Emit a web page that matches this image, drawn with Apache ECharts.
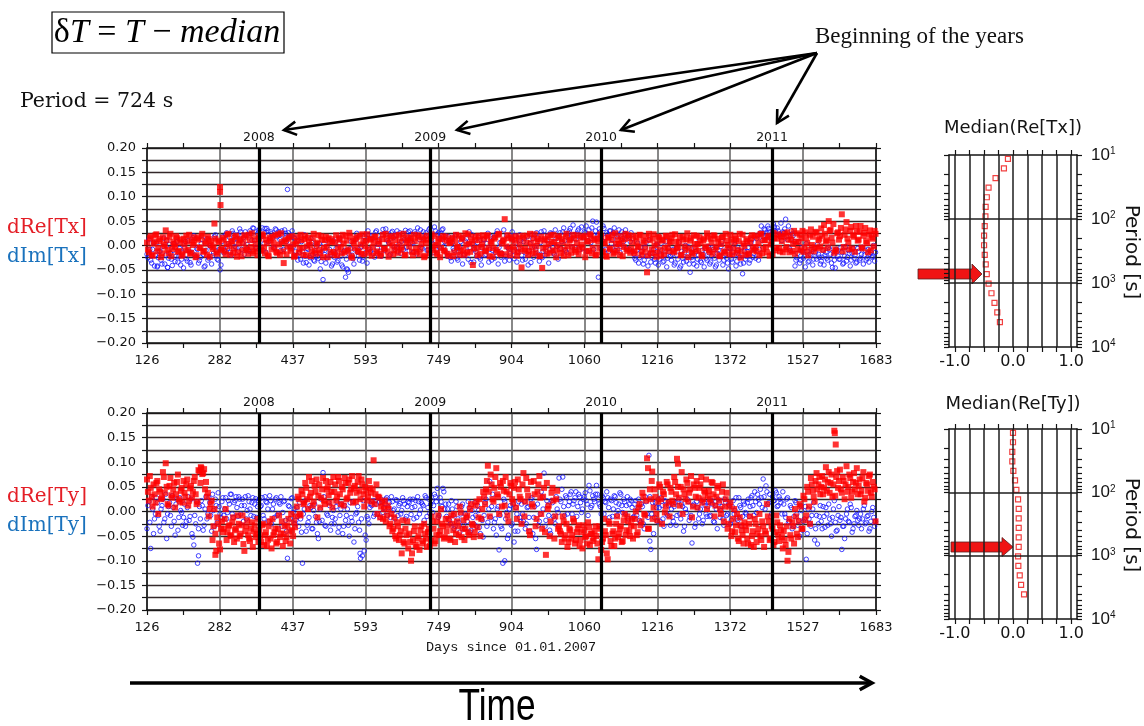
<!DOCTYPE html>
<html>
<head>
<meta charset="utf-8">
<script src="https://cdn.jsdelivr.net/npm/echarts@6/dist/echarts.min.js"></script>
<style>
  html, body { margin: 0; padding: 0; background: #fff; }
  #c { width: 1144px; height: 726px; }
</style>
</head>
<body>
<div id="c"></div>
<script>
// Observation days, first set (days since 01.01.2007)
const days = [
  126,130,134,138,142,146,150,154,158,162,166,170,174,178,182,186,190,194,198,202,
  206,210,214,218,222,226,230,234,238,242,246,250,254,258,262,266,270,274,278,282,
  286,290,294,298,302,306,310,314,318,322,326,330,334,338,342,346,350,354,358,362,
  366,370,374,378,382,386,390,394,398,402,406,410,414,418,422,426,430,434,438,442,
  446,450,454,458,462,466,470,474,478,482,486,490,494,498,502,506,510,514,518,522,
  526,530,534,538,542,546,550,554,558,562,566,570,574,578,582,586,590,594,598,602,
  606,610,614,618,622,626,630,634,638,642,646,650,654,658,662,666,670,674,678,682,
  686,690,694,698,702,706,710,714,718,722,726,730,734,738,742,746,750,754,758,762,
  766,770,774,778,782,786,790,794,798,802,806,810,814,818,822,826,830,834,838,842,
  846,850,854,858,862,866,870,874,878,882,886,890,894,898,902,906,910,914,918,922,
  926,930,934,938,942,946,950,954,958,962,966,970,974,978,982,986,990,994,998,1002,
  1006,1010,1014,1018,1022,1026,1030,1034,1038,1042,1046,1050,1054,1058,1062,1066,1070,1074,1078,1082,
  1086,1090,1094,1098,1102,1106,1110,1114,1118,1122,1126,1130,1134,1138,1142,1146,1150,1154,1158,1162,
  1166,1170,1174,1178,1182,1186,1190,1194,1198,1202,1206,1210,1214,1218,1222,1226,1230,1234,1238,1242,
  1246,1250,1254,1258,1262,1266,1270,1274,1278,1282,1286,1290,1294,1298,1302,1306,1310,1314,1318,1322,
  1326,1330,1334,1338,1342,1346,1350,1354,1358,1362,1366,1370,1374,1378,1382,1386,1390,1394,1398,1402,
  1406,1410,1414,1418,1422,1426,1430,1434,1438,1442,1446,1450,1454,1458,1462,1466,1470,1474,1478,1482,
  1486,1490,1494,1498,1502,1506,1510,1514,1518,1522,1526,1530,1534,1538,1542,1546,1550,1554,1558,1562,
  1566,1570,1574,1578,1582,1586,1590,1594,1598,1602,1606,1610,1614,1618,1622,1626,1630,1634,1638,1642,
  1646,1650,1654,1658,1662,1666,1670,1674,1678,1682
];
// Observation days, second set
const daysB = [
  128,132,136,140,144,148,152,156,160,164,168,172,176,180,184,188,192,196,200,204,
  208,212,216,220,224,228,232,236,240,244,248,252,256,260,264,268,272,276,280,284,
  288,292,296,300,304,308,312,316,320,324,328,332,336,340,344,348,352,356,360,364,
  368,372,376,380,384,388,392,396,400,404,408,412,416,420,424,428,432,436,440,444,
  448,452,456,460,464,468,472,476,480,484,488,492,496,500,504,508,512,516,520,524,
  528,532,536,540,544,548,552,556,560,564,568,572,576,580,584,588,592,596,600,604,
  608,612,616,620,624,628,632,636,640,644,648,652,656,660,664,668,672,676,680,684,
  688,692,696,700,704,708,712,716,720,724,728,732,736,740,744,748,752,756,760,764,
  768,772,776,780,784,788,792,796,800,804,808,812,816,820,824,828,832,836,840,844,
  848,852,856,860,864,868,872,876,880,884,888,892,896,900,904,908,912,916,920,924,
  928,932,936,940,944,948,952,956,960,964,968,972,976,980,984,988,992,996,1000,1004,
  1008,1012,1016,1020,1024,1028,1032,1036,1040,1044,1048,1052,1056,1060,1064,1068,1072,1076,1080,1084,
  1088,1092,1096,1100,1104,1108,1112,1116,1120,1124,1128,1132,1136,1140,1144,1148,1152,1156,1160,1164,
  1168,1172,1176,1180,1184,1188,1192,1196,1200,1204,1208,1212,1216,1220,1224,1228,1232,1236,1240,1244,
  1248,1252,1256,1260,1264,1268,1272,1276,1280,1284,1288,1292,1296,1300,1304,1308,1312,1316,1320,1324,
  1328,1332,1336,1340,1344,1348,1352,1356,1360,1364,1368,1372,1376,1380,1384,1388,1392,1396,1400,1404,
  1408,1412,1416,1420,1424,1428,1432,1436,1440,1444,1448,1452,1456,1460,1464,1468,1472,1476,1480,1484,
  1488,1492,1496,1500,1504,1508,1512,1516,1520,1524,1528,1532,1536,1540,1544,1548,1552,1556,1560,1564,
  1568,1572,1576,1580,1584,1588,1592,1596,1600,1604,1608,1612,1616,1620,1624,1628,1632,1636,1640,1644,
  1648,1652,1656,1660,1664,1668,1672,1676,1680
];

// Deviations from the median, in units of 0.001 (first set of days)
const reTx = [
  6,-14,19,-21,8,23,-5,13,-16,2,31,-9,18,-22,7,-3,15,-11,12,-18,
  3,20,-9,-17,11,6,-24,15,-4,19,-13,8,-19,13,1,-7,45,-14,10,120,
  -6,12,-18,22,-2,9,-15,17,-23,4,14,-10,21,-6,-17,11,25,-12,3,-20,
  14,-8,20,-16,5,-22,10,18,-4,-13,23,-19,7,-36,12,-2,17,-11,2,-21,
  9,-15,22,-5,13,-20,16,1,-12,24,-17,6,-9,19,-24,11,-3,15,-14,8,
  -19,21,-7,12,-16,4,20,-11,26,-22,9,-5,17,-13,2,23,-18,10,-8,14,
  -21,7,18,-12,3,-17,22,-6,13,-23,16,0,-10,20,-15,8,-4,24,-19,11,
  -2,15,-20,9,-13,21,-7,17,-24,5,12,-16,23,-9,1,-18,14,-5,19,-12,
  10,-21,6,16,-14,22,-3,-19,13,-8,25,-15,4,18,-40,11,-6,20,-17,2,
  14,-10,21,-22,7,-5,17,-13,24,-18,9,54,-2,15,-20,12,-9,19,-14,3,
  -45,16,-7,20,-12,5,-17,23,-1,13,-21,-46,10,-4,18,-15,8,22,-11,1,
  19,-16,6,-9,24,-20,12,-3,15,-13,21,-7,2,17,-24,9,-11,20,-5,14,
  -18,8,23,-14,4,-21,16,-6,11,-17,25,-10,3,19,-22,13,-8,21,-15,6,
  -12,17,-3,22,-19,10,-7,-55,24,-16,14,0,-23,18,-9,12,-18,20,-4,9,
  15,-11,23,-6,7,-20,18,-2,13,-24,10,-14,21,-8,3,17,-19,11,-5,25,
  -9,14,-17,20,-3,8,-22,16,-12,24,1,-18,12,-6,19,-15,9,-25,22,-1,
  13,-16,6,21,-10,-3,17,-20,24,-7,11,-14,20,2,-18,15,-5,23,-12,9,
  18,-8,27,-14,12,3,-17,25,7,-10,30,-4,16,-20,22,1,-12,28,-6,14,
  35,-9,24,11,50,32,6,-15,-11,27,19,64,-3,33,14,-8,38,21,-13,29,
  12,40,-6,26,9,-14,31,17,-2,24
];
const imTx = [
  -18,12,-30,-8,-42,5,-25,-12,-38,15,-20,-45,2,-28,-10,-33,8,-22,-40,-15,
  -5,-27,10,-35,-14,20,-24,-8,-31,4,-18,-42,14,-26,-3,-21,18,-11,-30,-50,
  8,-15,22,-6,17,-20,25,-2,14,-12,28,5,-18,20,-9,30,11,35,-4,24,
  33,18,-10,26,35,8,28,15,-6,32,22,12,30,-8,25,115,18,20,-3,14,
  -20,10,-28,-12,22,-35,-8,-25,6,-30,-15,-22,4,-33,-70,-10,-26,12,-18,-38,
  -24,-6,-31,15,-40,-12,-65,-50,-18,8,-27,-9,25,-21,-4,-32,18,-14,30,-7,
  20,-16,27,-5,12,-22,33,-10,24,6,-18,29,-3,21,-13,26,9,-8,31,15,
  -11,23,4,28,-17,19,32,-6,14,26,-9,35,10,-14,30,22,-4,25,34,8,
  -15,18,-25,6,-10,22,-30,-2,15,-20,9,-12,28,-35,3,-8,-22,17,-28,-5,
  12,-18,25,-8,-30,16,-14,30,-4,-24,10,-32,20,-6,-16,28,-27,5,-12,22,
  -20,8,-28,18,-10,-35,14,-3,26,-18,6,-25,30,-12,20,-8,24,-15,32,-2,
  18,-6,28,10,-14,25,35,-3,22,12,30,-9,38,16,26,-12,32,6,50,20,
  48,-65,28,10,35,-8,22,30,4,26,-10,18,32,-2,14,24,-6,20,8,-12,
  -18,-30,5,-25,-12,-38,-4,-22,12,-34,-16,-28,2,-40,-20,-10,-32,8,-26,-14,
  -30,-8,-36,-20,6,-42,-26,-14,-32,-3,-55,-24,-38,-12,-28,10,-35,-18,-6,-30,
  -15,-34,-4,-26,-40,-10,-22,8,-30,-18,-36,-6,-28,-14,2,-32,-20,-38,-58,-12,
  -22,-4,-30,12,-16,-26,20,-8,40,18,32,26,35,14,28,38,22,30,24,10,
  26,54,12,-6,30,20,-42,-25,8,-30,-12,-22,4,-34,-18,-8,-28,-15,2,-24,
  -32,-10,-20,-26,-4,-18,-45,-30,-8,-22,-28,-14,-36,-2,-24,-16,-30,-6,-20,-34,
  -12,-26,-4,-20,-30,-8,-18,-24,0,-14
];
const reTy = [
  65,22,48,10,35,58,-5,40,28,70,98,15,52,33,45,8,60,25,42,18,
  38,55,12,47,28,62,35,20,82,88,78,45,30,-10,15,-58,5,-80,-25,-77,
  -20,-35,5,-42,-28,-50,-12,-38,-55,-25,-45,-8,-80,-30,-48,-60,-22,-40,-52,-15,
  -38,-62,-25,-48,-70,-30,-55,-15,-42,-65,-35,-52,-20,-45,-60,-28,-40,-5,-50,-32,
  10,25,-8,35,18,48,5,30,62,20,40,-12,55,28,68,15,45,33,60,8,
  40,22,70,35,50,12,58,28,65,45,18,52,38,72,25,55,10,42,30,48,
  20,104,35,-5,28,10,-15,22,-8,5,-25,-40,-12,-55,-30,-48,-85,-62,-35,-20,
  -45,-100,-58,-30,-72,-50,-38,-65,-25,-55,-42,-70,-10,-35,-60,-20,-48,5,-30,-52,
  -40,-15,-58,-25,-5,-45,-30,10,-52,-18,-35,-8,-48,15,-28,-42,20,-12,-50,5,
  30,45,93,-10,55,20,70,35,-5,50,62,12,40,-20,58,25,48,8,65,30,
  -25,78,20,45,-40,60,10,35,-15,55,28,-35,48,-88,5,-50,38,22,-10,42,
  -30,-45,-10,-55,-25,-62,-38,-48,-20,-58,-35,-70,-42,-28,-52,-65,-32,-45,-60,-40,
  -50,-97,-35,-62,-15,-48,-97,-25,-70,-40,-55,-10,-45,-30,-60,-5,-38,-20,-50,-15,
  -30,0,-42,15,-20,30,-8,108,-35,25,-15,45,-5,20,50,-25,35,10,55,-10,
  40,15,60,107,28,50,-5,35,65,20,45,-12,55,30,8,48,70,25,38,5,
  42,18,58,-10,30,52,5,40,-20,25,-35,10,-50,-15,-42,-5,-60,-28,-48,-22,
  -38,-65,-10,-50,-72,-25,-45,-5,-58,-30,-40,15,-20,-55,-35,-62,-8,-48,-28,-52,
  -40,-68,-100,-15,-55,-30,5,-45,-20,10,-35,25,-8,40,-25,55,30,62,45,70,
  50,35,65,42,80,58,30,164,70,48,85,38,62,55,40,75,28,60,45,88,
  52,35,68,20,58,42,75,30,50,-20
];
const imTy = [
  -35,20,-75,5,-15,28,-8,-40,12,-22,35,-5,18,-30,8,-48,25,-12,2,-28,
  15,-20,30,-10,-45,-68,-25,-105,10,22,-38,5,-15,28,-8,35,-30,12,38,-5,
  20,-8,28,-2,15,35,-12,22,8,30,-5,25,12,-15,32,5,18,-10,26,10,
  25,12,-8,30,18,-20,22,5,-12,28,-5,15,-30,20,-18,-95,10,26,-2,-25,
  8,-30,-15,-105,5,-40,-22,12,-35,2,-10,-45,-20,25,79,-28,-5,18,-38,-12,
  -25,10,-42,-8,15,-30,-18,5,-50,-12,20,-35,-2,-22,-95,-90,-80,-58,-15,8,
  12,-10,22,-5,18,25,-2,15,28,8,-12,20,5,24,-8,16,2,22,-15,10,
  18,-6,25,10,-12,20,3,15,-18,28,8,-4,22,12,30,47,-8,20,47,5,
  -10,15,-25,5,-35,20,-15,-42,10,-28,-5,-20,8,-38,-12,18,-30,2,-45,-18,
  -8,25,-22,61,10,-35,-15,5,-78,-30,-105,20,-2,-48,12,-25,-62,8,-40,-12,
  15,-20,-35,8,-12,25,-45,10,-77,-28,-5,30,78,-18,12,-38,22,-10,-25,5,
  68,20,70,-8,28,12,35,-5,22,40,10,30,-2,25,38,15,53,8,32,20,
  53,25,10,32,-5,18,28,-12,22,5,30,-8,15,35,-2,20,12,-15,25,8,
  -10,22,5,-18,15,-25,30,-5,114,-77,18,-12,8,25,-20,12,-30,20,-8,15,
  5,-20,18,-8,25,-15,10,-30,-2,20,-12,-64,15,-25,8,-5,22,-18,12,-10,
  20,-8,15,-22,5,25,-12,10,-28,18,-5,12,-18,22,2,-15,28,8,-10,15,
  -5,25,10,32,-8,20,35,15,28,66,5,40,18,-10,30,22,38,12,25,-5,
  15,-12,28,-20,8,-30,22,-5,-18,12,-38,-15,-97,5,-25,-8,18,-35,-66,-10,
  -20,10,-32,-5,15,-25,-12,22,-40,-8,-18,-77,-30,-15,5,-22,8,-35,-10,2,
  -28,-5,-15,12,-22,-8,-35,0,-12,-20
];

// Deviations from the median, in units of 0.001 (second set of days)
const reTxB = [
  -8,15,-19,4,21,-12,9,-24,17,-2,11,-16,24,-7,3,19,-13,6,-21,14,
  -10,8,22,-15,1,17,-20,12,-5,24,-11,4,18,-23,9,-3,14,-17,7,-9,
  16,-12,3,24,-19,8,-6,20,-14,11,-22,5,17,-9,22,-3,-16,13,-7,19,
  -11,23,-4,12,-20,16,-8,6,21,-15,2,25,-12,9,-18,14,-6,19,-23,4,
  17,-7,11,-19,20,-2,8,-22,15,-10,3,21,-16,12,-5,18,-24,7,13,-13,
  6,-20,15,-3,22,-14,10,-8,18,-25,5,14,-11,20,-17,9,-2,23,-15,12,
  -4,18,-16,9,-21,13,-7,24,-12,5,19,-18,11,-3,22,-9,15,-20,6,17,
  10,-13,22,-6,16,-18,3,12,-21,20,-8,14,-2,19,-15,7,-24,13,-10,18,
  -17,5,13,-22,9,-4,20,-11,16,-19,2,23,-13,7,-6,18,-20,11,-3,21,
  -12,19,-5,8,-23,14,-9,22,-16,4,12,-18,21,-7,17,-2,10,-21,15,-8,
  20,-11,6,-19,24,-4,15,-14,9,-22,18,-6,13,-17,3,21,-10,7,-24,16,
  -7,13,-21,18,-2,10,-15,22,-9,5,-18,16,-4,20,-12,8,23,-16,11,-20,
  14,-5,19,-12,7,-23,17,-8,22,-14,3,12,-19,9,-3,24,-11,15,-7,20,
  -16,9,-2,21,-13,6,18,-20,11,-8,23,-15,4,16,-21,10,-5,19,-12,7,
  22,-14,8,-4,17,-19,12,-9,25,-6,15,-17,3,20,-11,6,-22,14,-2,18,
  -13,6,21,-8,14,-20,3,18,-15,10,-5,22,-18,7,13,-9,24,-12,4,-19,
  9,-18,15,-6,20,-12,5,23,-16,11,-3,17,-21,8,26,-10,14,-5,19,-14,
  24,-3,12,20,-11,30,8,-7,22,15,-13,27,5,-9,33,18,-4,26,11,-2,
  20,42,8,-5,30,16,44,-8,25,12,36,-12,22,48,6,30,-6,18,40,10,
  28,-4,20,36,5,22,-10,14,30
];
const imTxB = [
  -25,-8,-36,6,-20,-44,-12,-30,-2,-38,10,-26,-16,-41,4,-22,-34,-6,-28,-46,
  8,-32,-12,-40,16,-20,-6,-36,-24,12,-44,-10,-30,0,-38,-16,22,-28,-8,-40,
  18,-10,26,4,-14,30,12,-4,22,34,-8,16,28,2,-12,24,36,10,-6,30,
  20,36,4,-14,30,14,24,-4,34,18,28,-10,22,32,8,26,-2,30,16,-12,
  -30,-14,8,-36,-22,-6,-40,14,-18,-32,-2,-26,-48,-12,4,-36,-20,-8,-42,10,
  -16,-34,4,-22,-44,-10,-28,-55,-6,-20,-38,12,-14,-30,-2,-24,10,-36,22,-12,
  14,-24,30,4,-12,22,-6,34,10,-20,26,16,-8,30,2,-16,24,12,-4,28,
  30,6,-14,24,36,12,-4,28,18,-10,32,22,4,38,-8,26,14,32,-2,20,
  -22,10,-32,-6,20,-26,-14,8,-38,-18,14,-28,-4,22,-34,-12,6,-24,-40,12,
  -20,4,-34,18,-10,-26,24,-38,6,-16,32,-22,-4,-30,14,-12,20,-34,-6,10,
  -30,14,-16,-40,4,22,-24,-8,16,-32,28,-12,-20,10,-36,26,-4,-18,14,-28,
  26,8,36,-10,20,30,14,42,-4,24,34,18,-6,28,40,10,22,36,-8,30,
  20,34,-6,40,16,26,-12,30,12,36,-2,22,-14,28,8,32,18,-8,26,14,
  -26,-10,-36,-4,-20,-30,6,-42,-16,-24,-8,-36,-12,-28,4,-34,-20,-44,-6,-22,
  -18,-40,-6,-28,-46,-12,-34,0,-24,-38,-14,-30,-4,-42,-20,-32,-10,-44,-26,-2,
  -38,-22,-8,-44,-16,-30,-2,-40,-12,-26,-48,-6,-34,-20,-42,-10,-24,-4,-36,-28,
  -12,-36,6,-24,-8,14,-30,26,10,34,20,40,28,16,44,30,36,20,46,28,
  34,18,40,-10,24,8,-30,-16,-36,-4,-26,-44,-12,-32,-20,-40,-6,-28,-18,-38,
  -24,-40,-14,-30,-8,-36,-20,-46,-12,-28,-4,-38,-22,-32,-10,-42,-16,-26,-36,-6,
  -30,-18,-38,-10,-26,-34,-14,-22,-32
];
const reTyB = [
  40,72,30,55,18,62,45,25,80,38,50,12,68,28,58,35,75,20,48,62,
  30,65,22,52,40,70,15,84,58,76,86,60,38,5,22,-30,-45,-12,-65,-35,
  -42,-15,-58,-30,-48,-22,-62,-35,-8,-50,-28,-66,-40,-18,-55,-35,-72,-28,-45,-62,
  -50,-28,-68,-42,-58,-20,-75,-48,-35,-62,-8,-45,-70,-30,-52,-15,-65,-38,-22,-10,
  30,-5,42,15,58,25,70,38,12,52,65,32,8,45,22,62,50,18,40,70,
  55,30,62,15,45,68,25,58,38,72,48,20,60,42,65,35,50,22,62,38,
  45,15,55,30,-12,18,5,-20,12,-30,-5,-35,-50,-22,-58,-40,-18,-65,-48,-75,
  -62,-85,-40,-68,-55,-78,-30,-60,-45,-72,-35,-58,-20,-65,-48,-8,-40,-25,-55,-15,
  -28,-55,-8,-38,-62,-20,-48,-2,-35,-58,-12,-42,5,-25,-52,12,-32,25,-15,40,
  15,62,40,75,25,48,88,30,58,10,42,70,-8,35,52,18,60,-15,45,25,
  55,-10,68,32,-48,15,62,-30,40,72,-5,30,-42,58,12,-20,48,-55,25,-35,
  -40,-62,-20,-48,-72,-35,-55,-15,-65,-42,-28,-58,-75,-38,-50,-22,-68,-45,-55,-30,
  -65,-30,-78,-55,-40,-85,-20,-60,-45,-70,-25,-52,-35,-62,-18,-48,-10,-40,-28,-55,
  -15,-48,8,-28,38,-5,22,-35,45,62,8,30,-18,55,25,40,-2,60,18,48,
  22,70,35,50,12,80,45,25,58,38,72,10,48,62,28,55,18,42,65,32,
  25,60,35,12,48,22,-5,55,10,38,-25,18,-40,5,-28,-55,-12,-38,-65,-30,
  -55,-25,-68,-40,-15,-62,-35,-50,-20,-72,-45,-10,-58,-30,-68,-42,-22,-60,-38,-75,
  -58,-30,-82,-48,-22,-65,-10,-52,15,-35,32,-18,50,10,68,42,20,78,55,35,
  72,48,90,60,38,75,55,32,82,62,45,70,25,92,50,68,40,78,58,35,
  65,42,80,28,55,72,38,60,45
];
const imTyB = [
  12,-22,30,-45,-5,18,-30,5,25,-15,-55,10,-8,32,-20,15,-38,28,-2,-12,
  -30,8,-18,25,-52,-8,20,-35,-15,12,-28,30,-5,18,-40,2,25,-22,10,-12,
  28,5,-15,22,35,-5,18,30,-10,25,12,-20,30,2,20,-8,28,15,-12,22,
  10,28,-15,20,5,32,-25,15,25,-8,18,30,-2,22,-40,12,-15,28,5,-18,
  -10,18,-42,-5,22,-28,-12,8,-35,15,-22,-55,5,-18,30,-30,-8,12,-25,2,
  -15,20,-32,5,-45,12,-8,-28,18,-20,-62,-5,10,-38,-15,22,-48,-10,-25,15,
  22,-5,15,30,-12,20,8,25,-8,18,30,2,-15,22,12,-5,28,15,-10,20,
  25,8,-15,22,30,-5,18,12,32,-10,25,15,-2,35,20,-12,28,10,40,15,
  5,-18,22,-8,-30,10,-22,-5,15,-35,-12,20,-42,2,-25,-8,12,-32,-15,-52,
  18,-30,5,-12,35,-22,-48,10,-8,-35,25,-15,-55,5,-28,15,-40,-5,20,-20,
  -5,20,-25,10,-40,28,-12,-55,15,-20,40,5,-30,22,-8,-45,18,-15,30,-2,
  25,45,10,32,-5,20,40,15,28,-10,35,18,5,30,22,-8,42,12,25,35,
  35,15,-5,28,20,40,8,25,-10,32,18,2,38,12,25,-5,30,15,22,-12,
  15,-8,25,-22,10,-35,20,-12,30,-5,-45,18,-20,8,28,-15,22,-5,12,-28,
  -12,10,-28,20,-5,15,-40,5,25,-18,-8,12,-32,20,-15,5,-25,18,-5,10,
  -10,22,-20,12,-35,18,2,-15,25,-8,15,-25,10,-5,28,-18,12,-30,20,-2,
  18,-10,28,12,40,-2,25,45,8,30,52,15,35,-5,22,42,10,30,18,40,
  -5,25,-22,12,-35,-10,18,-28,-50,2,-20,10,-45,-15,-30,5,-58,-8,-25,12,
  -35,-10,8,-28,-15,-50,5,-22,-38,10,-12,-30,-55,-5,-20,15,-42,-25,-8,-18,
  -15,-35,5,-25,-10,-40,-20,8,-30
];
// Additional estimates on single days: [day, value in 0.001]
const reTxExtra = [[282,110],[283,83]];
const imTxExtra = [[553,-48],[148,-42],[170,-45],[378,35]];
const reTyExtra = [[1595,159],[1597,136],[241,90],[272,-88],[1196,88],[1260,97],[1205,81]];
const imTyExtra = [[236,-90],[581,-85],[890,-100],[1200,-60]];

// Median transfer function vs period
const periods = [11.5,16.2,22.9,32.4,45.7,64.6,91.2,128.8,181.9,257.0,363.1,512.9,724.4,1023,1445,2042,2884,4074];
const medReTx = [-0.087,-0.156,-0.30,-0.42,-0.45,-0.47,-0.474,-0.486,-0.497,-0.497,-0.486,-0.468,-0.451,-0.42,-0.37,-0.318,-0.27,-0.225];
const medReTy = [0.0,0.0,-0.012,-0.012,0.006,0.035,0.058,0.087,0.098,0.098,0.098,0.098,0.098,0.087,0.092,0.116,0.139,0.19];

// Axis ticks and labels
const xTickLabels = ['126','282','437','593','749','904','1060','1216','1372','1527','1683'];
const yTickLabels = ['\u22120.20','\u22120.15','\u22120.10','\u22120.05','0.00','0.05','0.10','0.15','0.20'];
const yearStarts = [365, 731, 1096, 1461];
const yearLabels = ['2008','2009','2010','2011'];
const sideGridValues = [-1,-0.75,-0.5,-0.25,0,0.25,0.5,0.75,1];
const sideLabelValues = [-1,0,1];
const sideTickLabels = ['-1.0','0.0','1.0'];
const periodTicks = [10,20,30,40,50,60,70,80,90,100,200,300,400,500,600,700,800,900,
                     1000,2000,3000,4000,5000,6000,7000,8000,9000,10000];
const periodDecades = [10,100,1000,10000];
const periodInnerDecades = [100,1000];

const X_MIN = 126, X_MAX = 1683, X_STEP = (X_MAX - X_MIN) / 10;
const SANS = '"DejaVu Sans", sans-serif';
const INK = '#141414';

function points(dayList, vals, extra) {
  const out = [];
  dayList.forEach((d, i) => { if (vals[i] !== undefined) out.push([d, vals[i] / 1000]); });
  (extra || []).forEach(([d, v]) => out.push([d, v / 1000]));
  return out;
}
function bothSets(a, b, extra) {
  return points(days, a, extra).concat(points(daysB, b));
}

function mainX(grid, pos) {
  const bottom = pos === 'bottom';
  return {
    type: 'value', gridIndex: grid, position: pos, min: X_MIN, max: X_MAX, interval: X_STEP,
    axisLine: { show: true, onZero: false, lineStyle: { color: INK, width: 1.5 } },
    axisTick: { show: true, length: 5, lineStyle: { color: INK, width: 1.2 } },
    minorTick: { show: true, splitNumber: 2, length: 5, lineStyle: { color: INK, width: 1.2 } },
    axisLabel: {
      show: bottom, margin: 11, fontFamily: SANS, fontSize: 13, color: INK,
      formatter: v => xTickLabels[Math.round((v - X_MIN) / X_STEP)] || ''
    },
    splitLine: { show: bottom, lineStyle: { color: '#606060', width: 1.5 } }
  };
}
function mainY(grid, pos) {
  const left = pos === 'left';
  return {
    type: 'value', gridIndex: grid, position: pos, min: -0.2, max: 0.2, interval: 0.05,
    axisLine: { show: true, onZero: false, lineStyle: { color: INK, width: 1.5 } },
    axisTick: { show: true, length: 5, lineStyle: { color: INK, width: 1.2 } },
    minorTick: { show: true, splitNumber: 2, length: 5, lineStyle: { color: INK, width: 1.2 } },
    axisLabel: {
      show: left, margin: 11, fontFamily: SANS, fontSize: 13, color: INK,
      formatter: v => yTickLabels[Math.round((v + 0.2) / 0.05)] || ''
    },
    splitLine: { show: left, lineStyle: { color: '#33282a', width: 1.3 } },
    minorSplitLine: { show: left, lineStyle: { color: '#33282a', width: 1.3 } }
  };
}
function sideX(grid, pos) {
  const bottom = pos === 'bottom';
  return {
    type: 'value', gridIndex: grid, position: pos, min: -1.1, max: 1.1,
    axisLine: { show: true, onZero: false, lineStyle: { color: INK, width: 1.5 } },
    axisTick: { show: true, length: 5, customValues: sideGridValues, lineStyle: { color: INK, width: 1.2 } },
    axisLabel: {
      show: bottom, margin: 7, fontFamily: SANS, fontSize: 16, color: INK,
      customValues: sideLabelValues,
      formatter: v => sideTickLabels[Math.round(v + 1)] || ''
    },
    splitLine: { show: false }
  };
}
function sideY(grid, pos) {
  const right = pos === 'right';
  return {
    type: 'log', logBase: 10, gridIndex: grid, position: pos, min: 10, max: 10000, inverse: true,
    axisLine: { show: true, onZero: false, lineStyle: { color: INK, width: 1.5 } },
    axisTick: { show: true, length: 5, customValues: periodTicks, lineStyle: { color: INK, width: 1.2 } },
    axisLabel: {
      show: right, margin: 14, customValues: periodDecades, color: INK,
      formatter: v => '{b|10}{s|' + Math.round(Math.log10(v)) + '}',
      rich: {
        b: { fontFamily: '"Liberation Sans", sans-serif', fontSize: 17, color: INK },
        s: { fontFamily: '"Liberation Sans", sans-serif', fontSize: 10, color: INK, verticalAlign: 'top' }
      }
    },
    splitLine: { show: false }
  };
}

function yearMarks() {
  return {
    silent: true, symbol: ['none', 'none'], animation: false,
    lineStyle: { color: '#000', width: 3.2, type: 'solid' },
    label: { show: true, position: 'end', distance: 4, fontFamily: SANS, fontSize: 12.5, color: INK },
    data: yearStarts.map((d, i) => ({ xAxis: d, label: { formatter: yearLabels[i] } }))
  };
}
function sideMarks() {
  return {
    silent: true, symbol: ['none', 'none'], animation: false,
    lineStyle: { color: '#1e1e1e', width: 1.5, type: 'solid' },
    label: { show: false },
    data: sideGridValues.map(v => ({ xAxis: v })).concat(periodInnerDecades.map(p => ({ yAxis: p })))
  };
}

const blueStyle = { color: 'rgba(0,0,0,0)', borderColor: '#1414ff', borderWidth: 1 };
const redStyle = { color: '#ff0000' };

function arrowEls(x1, y1, x2, y2, len, lw) {
  const a = Math.atan2(y2 - y1, x2 - x1), s = 0.5;
  return [
    { type: 'line', shape: { x1, y1, x2, y2 }, style: { stroke: '#000', lineWidth: lw } },
    { type: 'polyline', shape: { points: [
        [x2 - len * Math.cos(a - s), y2 - len * Math.sin(a - s)], [x2, y2],
        [x2 - len * Math.cos(a + s), y2 - len * Math.sin(a + s)]] },
      style: { stroke: '#000', lineWidth: lw, fill: null, lineJoin: 'miter' } }
  ];
}
function blockArrow(x0, x1, tip, yc, shaftH, headH) {
  return {
    type: 'polygon',
    shape: { points: [[x0, yc - shaftH / 2], [x1, yc - shaftH / 2], [x1, yc - headH / 2], [tip, yc],
                      [x1, yc + headH / 2], [x1, yc + shaftH / 2], [x0, yc + shaftH / 2]] },
    style: { fill: '#f01414', stroke: '#5a2020', lineWidth: 0.8 }
  };
}
function text(x, y, str, font, fill, align, extra) {
  return Object.assign({ type: 'text', x, y,
    style: { text: str, font, fill: fill || INK, align: align || 'left', verticalAlign: 'middle' } }, extra || {});
}

const serif = '"DejaVu Serif", serif';
const origin = [817, 53];
const graphics = [
  { type: 'rect', shape: { x: 52, y: 12, width: 232, height: 41 }, style: { fill: null, stroke: '#000', lineWidth: 1.2 } },
  { type: 'text', x: 167, y: 33, style: {
      text: '{u|\u03b4}{i|T}{u| = }{i|T}{u| \u2212 }{i|median}', align: 'center', verticalAlign: 'middle', fill: '#000',
      rich: { u: { fontFamily: '"Liberation Serif", serif', fontSize: 34, fill: '#000' },
              i: { fontFamily: '"Liberation Serif", serif', fontStyle: 'italic', fontSize: 34, fill: '#000' } } } },
  text(20, 102, 'Period = 724 s', '20.5px ' + serif, '#111'),
  text(815, 37, 'Beginning of the years', '23px "Liberation Serif", serif', '#111'),
  ...arrowEls(origin[0], origin[1], 284, 130, 14, 2.6),
  ...arrowEls(origin[0], origin[1], 457, 130, 14, 2.6),
  ...arrowEls(origin[0], origin[1], 621, 130, 14, 2.6),
  ...arrowEls(origin[0], origin[1], 777, 123, 14, 2.6),
  text(7, 228, 'dRe[Tx]', '20px ' + serif, '#e41e26'),
  text(7, 257, 'dIm[Tx]', '20px ' + serif, '#1a72bd'),
  text(7, 497, 'dRe[Ty]', '20px ' + serif, '#e41e26'),
  text(7, 526, 'dIm[Ty]', '20px ' + serif, '#1a72bd'),
  text(1013, 128, 'Median(Re[Tx])', '18px ' + SANS, INK, 'center'),
  text(1013, 404, 'Median(Re[Ty])', '18px ' + SANS, INK, 'center'),
  text(1131, 252, 'Period [s]', '20px ' + SANS, INK, 'center', { rotation: -Math.PI / 2 }),
  text(1131, 525, 'Period [s]', '20px ' + SANS, INK, 'center', { rotation: -Math.PI / 2 }),
  blockArrow(918, 972, 982, 274, 10, 20),
  blockArrow(951, 1002, 1013, 547, 10, 19),
  text(511, 647, 'Days since 01.01.2007', '13.5px "Liberation Mono", monospace', INK, 'center'),
  ...arrowEls(130, 683, 872, 683, 14, 3.5),
  text(497, 708, 'Time', '44px "Liberation Sans", sans-serif', '#000', 'center', { scaleX: 0.8 })
];

const option = {
  animation: false,
  backgroundColor: '#ffffff',
  grid: [
    { left: 147, top: 148, width: 729, height: 195 },
    { left: 147, top: 413, width: 729, height: 197 },
    { left: 949, top: 155, width: 128, height: 192 },
    { left: 949, top: 429, width: 128, height: 190 }
  ],
  xAxis: [mainX(0, 'bottom'), mainX(0, 'top'), mainX(1, 'bottom'), mainX(1, 'top'),
          sideX(2, 'bottom'), sideX(2, 'top'), sideX(3, 'bottom'), sideX(3, 'top')],
  yAxis: [mainY(0, 'left'), mainY(0, 'right'), mainY(1, 'left'), mainY(1, 'right'),
          sideY(2, 'left'), sideY(2, 'right'), sideY(3, 'left'), sideY(3, 'right')],
  series: [
    { name: 'dIm[Tx]', type: 'scatter', xAxisIndex: 0, yAxisIndex: 0, symbol: 'circle', symbolSize: 4.5,
      itemStyle: blueStyle, data: bothSets(imTx, imTxB, imTxExtra), silent: true },
    { name: 'dRe[Tx]', type: 'scatter', xAxisIndex: 0, yAxisIndex: 0, symbol: 'rect', symbolSize: 6,
      itemStyle: redStyle, data: bothSets(reTx, reTxB, reTxExtra), silent: true },
    { type: 'scatter', xAxisIndex: 0, yAxisIndex: 0, data: [], markLine: yearMarks() },
    { name: 'dIm[Ty]', type: 'scatter', xAxisIndex: 2, yAxisIndex: 2, symbol: 'circle', symbolSize: 4.5,
      itemStyle: blueStyle, data: bothSets(imTy, imTyB, imTyExtra), silent: true },
    { name: 'dRe[Ty]', type: 'scatter', xAxisIndex: 2, yAxisIndex: 2, symbol: 'rect', symbolSize: 6,
      itemStyle: redStyle, data: bothSets(reTy, reTyB, reTyExtra), silent: true },
    { type: 'scatter', xAxisIndex: 2, yAxisIndex: 2, data: [], markLine: yearMarks() },
    { name: 'Median(Re[Tx])', type: 'scatter', xAxisIndex: 4, yAxisIndex: 4, symbol: 'rect', symbolSize: 5,
      itemStyle: { color: '#ffffff', borderColor: '#ee1010', borderWidth: 1.2 },
      data: periods.map((p, i) => [medReTx[i], p]), markLine: sideMarks(), z: 3 },
    { name: 'Median(Re[Ty])', type: 'scatter', xAxisIndex: 6, yAxisIndex: 6, symbol: 'rect', symbolSize: 5,
      itemStyle: { color: '#ffffff', borderColor: '#ee1010', borderWidth: 1.2 },
      data: periods.map((p, i) => [medReTy[i], p]), markLine: sideMarks(), z: 3 }
  ],
  graphic: graphics
};

const chart = echarts.init(document.getElementById('c'));
chart.setOption(option);
</script>
</body>
</html>
